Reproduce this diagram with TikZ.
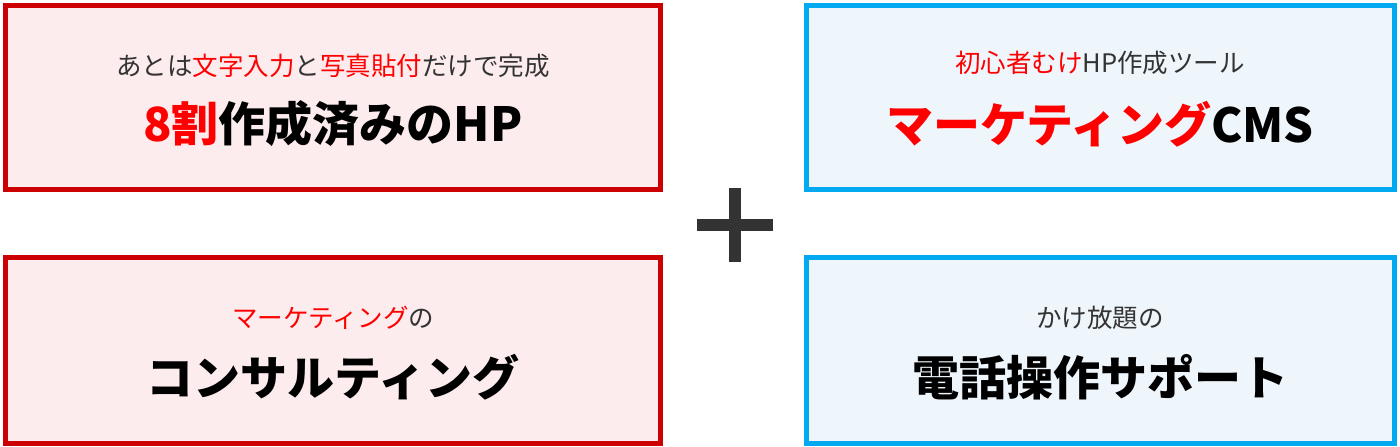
\documentclass[tikz,border=0pt]{standalone}
\usepackage{fontspec}
\setmainfont{Noto Sans CJK JP}
\definecolor{rb}{HTML}{CC0000}
\definecolor{rf}{HTML}{FDECEE}
\definecolor{bb}{HTML}{00A9F0}
\definecolor{bf}{HTML}{EEF6FC}
\definecolor{tx}{HTML}{333333}
\definecolor{hl}{HTML}{FF0000}
\begin{document}
\begin{tikzpicture}[x=1pt,y=-1pt,
 redbox/.style={draw=rb,fill=rf,line width=5pt},
 bluebox/.style={draw=bb,fill=bf,line width=5pt},
 small/.style={font=\fontsize{25.5}{28}\selectfont,text=tx},
 big/.style={font=\fontsize{47}{52}\bfseries\selectfont,text=black}]
\useasboundingbox (0,0) rectangle (1400,447);
\draw[redbox] (5.5,5.5) rectangle (660,189) node[pos=.5] (b1) {};
\draw[redbox] (5.5,257.5) rectangle (660,443) node[pos=.5] (b2) {};
\draw[bluebox] (806.5,5.5) rectangle (1394.5,189) node[pos=.5] (b3) {};
\draw[bluebox] (806.5,257.5) rectangle (1394.5,443) node[pos=.5] (b4) {};
\node[small] (t1) at (333,66) {あとは\textcolor{hl}{文字入力}と\textcolor{hl}{写真貼付}だけで完成};
\node[big] (h1) at (333,124) {\textcolor{hl}{8割}作成済みのHP};
\node[small] (t2) at (333,318) {\textcolor{hl}{マーケティング}の};
\node[big] (h2) at (333,377) {コンサルティング};
\node[small] (t3) at (1100,63) {\textcolor{hl}{初心者むけ}HP作成ツール};
\node[big] (h3) at (1100,124) {\textcolor{hl}{マーケティング}CMS};
\node[small] (t4) at (1100,318) {かけ放題の};
\node[big] (h4) at (1100,377) {電話操作サポート};
\fill[tx] (729,188) rectangle (741,262);
\fill[tx] (697,219) rectangle (773,231);
\end{tikzpicture}
\end{document}
